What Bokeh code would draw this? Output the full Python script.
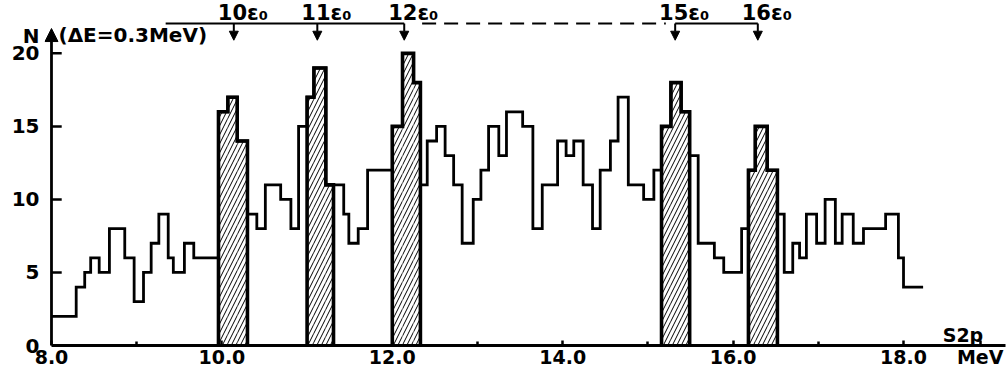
import numpy as np
from bokeh.plotting import figure
from bokeh.models import (FixedTicker, NumeralTickFormatter, Arrow, NormalHead,
                          Label, ColumnDataSource, Range1d)
from bokeh.core.properties import value
from bokeh.embed import file_html
from bokeh.resources import INLINE

# ---- data ----
# bin edges (MeV, S2p) and counts N per bin
edges = [8.00, 8.29, 8.39, 8.46, 8.56, 8.68, 8.86, 8.97, 9.08, 9.17, 9.26, 9.37, 9.43, 9.56, 9.67, 9.96,
         10.07, 10.18, 10.30,
         10.41, 10.51, 10.69, 10.81, 10.90, 11.00,
         11.08, 11.22, 11.31,
         11.43, 11.49, 11.60, 11.71, 12.00,
         12.12, 12.25, 12.33,
         12.41, 12.52, 12.62, 12.72, 12.82, 12.95, 13.04, 13.13, 13.25, 13.34, 13.53, 13.65, 13.76,
         13.94, 14.04, 14.13, 14.24, 14.35, 14.44, 14.56, 14.65, 14.77, 14.95, 15.07, 15.16,
         15.27, 15.39, 15.49,
         15.59, 15.78, 15.89, 16.10, 16.18,
         16.26, 16.40, 16.52,
         16.60, 16.70, 16.78, 16.86, 16.98, 17.08, 17.20, 17.28, 17.41, 17.53, 17.79, 17.94, 18.00, 18.23]
counts = [2, 4, 5, 6, 5, 8, 6, 3, 5, 7, 9, 6, 5, 7, 6,
          16, 17, 14,
          9, 8, 11, 10, 8, 15,
          17, 19, 11,
          11, 9, 7, 8, 12,
          15, 20, 18,
          11, 14, 15, 13, 11, 7, 10, 12, 15, 13, 16, 15, 8, 11, 14, 13, 14, 11, 8, 12, 14, 17, 11, 10, 12,
          15, 18, 16,
          13, 7, 6, 5, 8,
          12, 15, 12,
          9, 5, 7, 6, 9, 7, 10, 7, 9, 7, 8, 9, 6, 4]
hatched = ([0] * 15 + [1] * 3 + [0] * 6 + [1] * 3 + [0] * 5 + [1] * 3 +
           [0] * 25 + [1] * 3 + [0] * 5 + [1] * 3 + [0] * 14)

eps_n = [10, 11, 12, 15, 16]
eps_energy = [10.14, 11.12, 12.14, 15.32, 16.29]
bracket_start = 9.34
dash_start, dash_end = 12.35, 15.21

x_ticks = [8, 10, 12, 14, 16, 18]
x_minor_ticks = [9, 11, 13, 15, 17]
x_unit_pos, x_unit_text = 18.9, "MeV"
y_ticks = [0, 5, 10, 15, 20]
y_name_pos, y_name_text = 21.2, "N"

# ---- layout constants ----
X_START = 7.918
X_END = 19.197
Y_END = 23.62
Y_AXIS_TIP = 21.7
BR_Y = 22.05
ARROW_TIP = 20.9
EPS_LABEL_Y = 22.73
Y_TICK_LEN = 0.12   # in MeV, inward tick length on the y axis
FONT = "DejaVu Sans"

e = np.array(edges)
c = np.array(counts)
h = np.array(hatched)

p = figure(width=1008, height=370, output_backend="svg", toolbar_location=None,
           x_range=Range1d(X_START, X_END), y_range=Range1d(0, Y_END),
           min_border_left=44, min_border_right=3, min_border_top=0, min_border_bottom=24)
p.outline_line_color = None
p.grid.visible = False
p.background_fill_color = "white"
p.border_fill_color = "white"

# hatched peaks
hs = ColumnDataSource(dict(left=e[:-1][h == 1], right=e[1:][h == 1], top=c[h == 1]))
p.quad(left="left", right="right", top="top", bottom=0, source=hs,
       fill_color="white", line_color=None, hatch_pattern="/", hatch_color="black",
       hatch_weight=1.0, hatch_scale=9)

# step outline of whole histogram
sx = np.repeat(e, 2)[1:-1]
sy = np.repeat(c, 2)
p.line(sx, sy, line_color="black", line_width=2.8, line_join="miter")

# outlines of hatched groups
xs_list, ys_list = [], []
i = 0
n = len(c)
while i < n:
    if h[i] == 1:
        j = i
        while j + 1 < n and h[j + 1] == 1:
            j += 1
        gx = [e[i]]
        gy = [0]
        for k in range(i, j + 1):
            gx += [e[k], e[k + 1]]
            gy += [c[k], c[k]]
        gx.append(e[j + 1])
        gy.append(0)
        xs_list.append(gx)
        ys_list.append(gy)
        i = j + 1
    else:
        i += 1
p.multi_line(xs_list, ys_list, line_color="black", line_width=3.6, line_join="miter")

# bracket with arrows on top
p.line([bracket_start, eps_energy[2]], [BR_Y, BR_Y], line_color="black", line_width=2)
p.line([dash_start, dash_end], [BR_Y, BR_Y], line_color="black", line_width=2, line_dash="14 8")
p.line([eps_energy[3], eps_energy[4]], [BR_Y, BR_Y], line_color="black", line_width=2)
asrc = ColumnDataSource(dict(x=eps_energy, y0=[BR_Y] * len(eps_energy), y1=[ARROW_TIP] * len(eps_energy)))
p.add_layout(Arrow(end=NormalHead(size=9, fill_color="black", line_color="black", line_width=1),
                   x_start="x", y_start="y0", x_end="x", y_end="y1", source=asrc,
                   line_width=2, line_color="black"))
p.text(x=eps_energy, y=[EPS_LABEL_Y] * len(eps_energy),
       text=[f"{k}ε₀" for k in eps_n], x_offset=9,
       text_align="center", text_baseline="middle",
       text_font=value(FONT), text_font_style="bold", text_font_size="21px", text_color="black")

# y axis line as an arrow, inward ticks
p.add_layout(Arrow(end=NormalHead(size=13, fill_color="black", line_color="black", line_width=1),
                   x_start=8, y_start=0, x_end=8, y_end=Y_AXIS_TIP, line_width=2.8, line_color="black"))
p.segment(x0=[8] * len(y_ticks), y0=y_ticks, x1=[8 + Y_TICK_LEN] * len(y_ticks), y1=y_ticks,
          line_color="black", line_width=2.5)

yax = p.yaxis[0]
yax.ticker = FixedTicker(ticks=y_ticks + [y_name_pos])
yax.major_label_overrides = {y_name_pos: y_name_text}
yax.axis_line_color = None
yax.major_tick_line_color = None
yax.minor_tick_line_color = None
yax.major_tick_in = 0
yax.major_tick_out = 0
yax.major_label_standoff = 5
yax.major_label_text_font = FONT
yax.major_label_text_font_style = "bold"
yax.major_label_text_font_size = "20px"
yax.major_label_text_color = "black"

xax = p.xaxis[0]
xax.ticker = FixedTicker(ticks=x_ticks + [x_unit_pos], minor_ticks=x_minor_ticks)
xax.formatter = NumeralTickFormatter(format="0.0")
xax.major_label_overrides = {x_unit_pos: x_unit_text}
xax.bounds = (8, X_END)
xax.axis_line_width = 2.8
xax.axis_line_color = "black"
xax.major_tick_in = 5
xax.major_tick_out = 0
xax.major_tick_line_width = 2.5
xax.minor_tick_in = 4
xax.minor_tick_out = 0
xax.minor_tick_line_width = 2.5
xax.major_label_standoff = 0
xax.major_label_text_font = FONT
xax.major_label_text_font_style = "bold"
xax.major_label_text_font_size = "19px"
xax.major_label_text_color = "black"

lab_kw = dict(text_font=FONT, text_font_style="bold", text_color="black")
p.add_layout(Label(x=8, y=Y_AXIS_TIP - 0.47, x_offset=7, text="(ΔE=0.3MeV)", text_align="left",
                   text_baseline="middle", text_font_size="20px", **lab_kw))
p.add_layout(Label(x=18.46, y=0.75, text="S2p", text_align="left",
                   text_baseline="middle", text_font_size="19px", **lab_kw))

open("out.html", "w").write(file_html(p, INLINE))
